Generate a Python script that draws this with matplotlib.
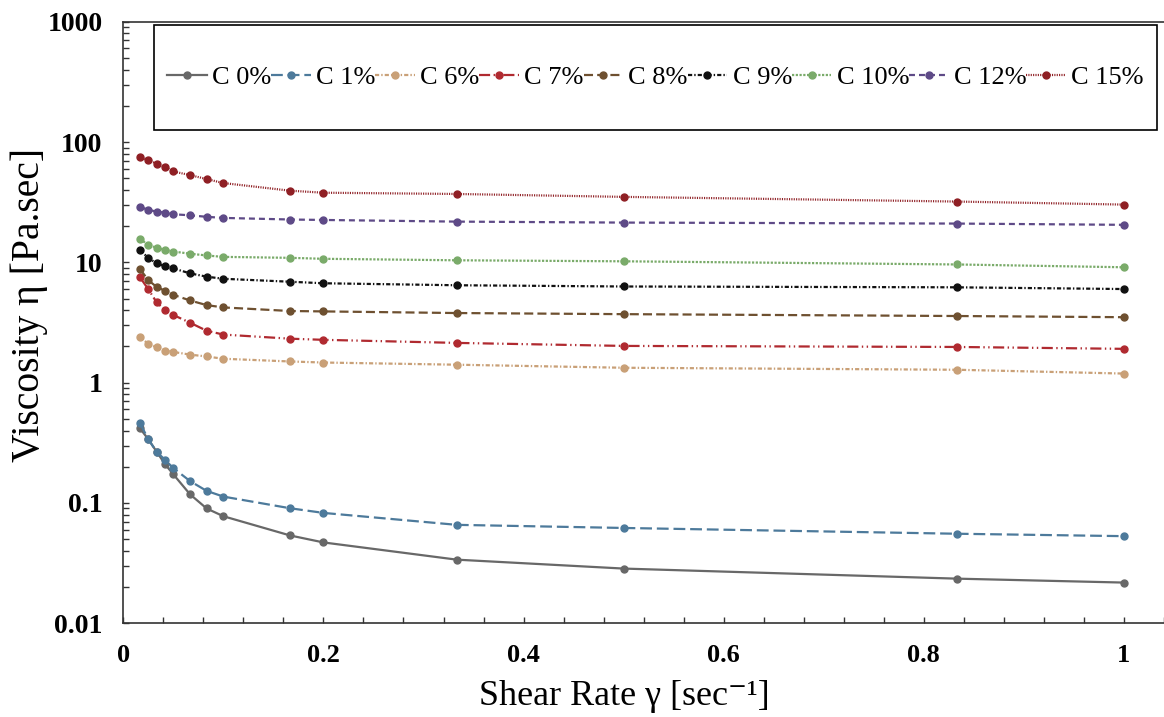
import numpy as np
import matplotlib
matplotlib.use("Agg")
import matplotlib.pyplot as plt
from matplotlib.patches import Rectangle
from matplotlib.ticker import LogLocator, MultipleLocator, NullFormatter, FixedLocator, FixedFormatter

# shear rate values (sec^-1)
shear_rate = [0.0167, 0.025, 0.0333, 0.0417, 0.05, 0.0667, 0.0833, 0.1,
              0.1667, 0.2, 0.3333, 0.5, 0.8333, 1.0]

# viscosity readings (Pa.sec) per concentration
c0 = [0.417, 0.338, 0.267, 0.210, 0.173, 0.118, 0.090, 0.0776,
      0.0537, 0.047, 0.0338, 0.0285, 0.0235, 0.0218]
c1 = [0.461, 0.338, 0.267, 0.228, 0.195, 0.152, 0.126, 0.113,
      0.0904, 0.0827, 0.0658, 0.062, 0.0555, 0.053]
c6 = [2.39, 2.10, 1.97, 1.85, 1.80, 1.71, 1.65, 1.58,
      1.50, 1.47, 1.41, 1.33, 1.28, 1.19]
c7 = [7.5, 5.98, 4.65, 4.01, 3.65, 3.15, 2.70, 2.51,
      2.32, 2.27, 2.14, 2.02, 1.98, 1.91]
c8 = [8.8, 7.1, 6.25, 5.8, 5.37, 4.82, 4.41, 4.22,
      3.94, 3.91, 3.79, 3.71, 3.58, 3.5]
c9 = [12.6, 10.9, 9.8, 9.3, 8.9, 8.1, 7.6, 7.3,
      6.9, 6.7, 6.45, 6.3, 6.2, 6.0]
c10 = [15.6, 14.0, 13.2, 12.7, 12.3, 11.8, 11.4, 11.1,
       10.9, 10.7, 10.4, 10.2, 9.6, 9.1]
c12 = [28.9, 27.3, 26.4, 25.9, 25.1, 24.6, 23.9, 23.4,
       22.7, 22.5, 21.8, 21.4, 21.0, 20.5]
c15 = [75.5, 70.6, 66.2, 62.1, 56.9, 53.1, 49.2, 45.6,
       39.4, 37.9, 37.0, 35.0, 32.0, 30.2]

labels = ["C 0%", "C 1%", "C 6%", "C 7%", "C 8%", "C 9%", "C 10%", "C 12%", "C 15%"]
series = [c0, c1, c6, c7, c8, c9, c10, c12, c15]
colors = ["#686868", "#4d7a9b", "#c9a077", "#b02a30", "#6e5030",
          "#111111", "#7aab6a", "#5e4a87", "#8f1f24"]
styles = ["-", (0, (8.5, 3.5)), (0, (3, 1.5, 1, 1.5)), (0, (8, 2.5, 1, 2.5, 1, 2.5)),
          (0, (6.5, 3)), (0, (3, 1.5, 1, 1.5)), (0, (1.6, 1.1)), (0, (4.3, 2.9)), (0, (0.8, 0.9))]

plt.rcParams['font.family'] = ['Liberation Serif', 'DejaVu Serif']
plt.rcParams['lines.scale_dashes'] = False

fig = plt.figure(figsize=(11.64, 7.17), dpi=100)
ax = fig.add_axes([123.3 / 1164, 1 - 623.3 / 717, 1040.7 / 1164, 601.6 / 717])

for y, lab, col, ls in zip(series, labels, colors, styles):
    ax.plot(shear_rate, y, color=col, linestyle=ls, linewidth=1.6,
            marker='o', markersize=5, label=lab)

ax.set_yscale('log')
ax.set_ylim(0.01, 1000)
ax.set_xlim(0, 1.04)

ax.xaxis.set_major_locator(FixedLocator([0, 0.2, 0.4, 0.6, 0.8, 1.0]))
ax.xaxis.set_major_formatter(FixedFormatter(["0", "0.2", "0.4", "0.6", "0.8", "1"]))
ax.xaxis.set_minor_locator(MultipleLocator(0.04))
ax.yaxis.set_major_locator(FixedLocator([0.01, 0.1, 1, 10, 100, 1000]))
ax.yaxis.set_major_formatter(FixedFormatter(["0.01", "0.1", "1", "10", "100", "1000"]))
ax.yaxis.set_minor_locator(LogLocator(base=10, subs=np.arange(2, 10)))
ax.yaxis.set_minor_formatter(NullFormatter())

ax.tick_params(axis='both', which='both', direction='in', length=4.5, width=1, color='#333333')
ax.tick_params(axis='x', which='major', pad=15, labelsize=19)
ax.tick_params(axis='y', which='major', pad=15, labelsize=20)
for t in ax.get_xticklabels() + ax.get_yticklabels():
    t.set_fontweight('bold')

ax.spines['right'].set_visible(False)
for s in ['left', 'bottom', 'top']:
    ax.spines[s].set_linewidth(1.2)
    ax.spines[s].set_color('#333333')

ax.set_xlabel("Shear Rate \u03b3 [sec\u207b\u00b9]", fontsize=26)
ax.xaxis.set_label_coords(0.481, -0.094)
ax.set_ylabel("Viscosity \u03b7 [Pa.sec]", fontsize=28.5)
ax.yaxis.set_label_coords(-0.072, 0.529)

# legend box
bx, by, bw, bh = 0.0295, 0.82, 0.9638, 0.1745
ax.add_patch(Rectangle((bx, by), bw, bh, transform=ax.transAxes, fill=False,
                       edgecolor='black', linewidth=1.2, zorder=5))
ax.legend(loc='center', bbox_to_anchor=(bx, by, bw, bh), mode='expand', ncol=9,
          frameon=False, fontsize=19, handlelength=1.5, handletextpad=0.2,
          columnspacing=0.3, borderaxespad=0.3, borderpad=0.2)

fig.savefig("out.png", dpi=100)
